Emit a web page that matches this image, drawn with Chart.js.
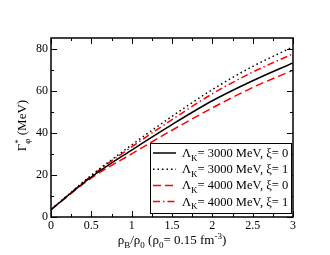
<!DOCTYPE html>
<html>
<head>
<meta charset="utf-8">
<script src="https://cdn.jsdelivr.net/npm/chart.js@4/dist/chart.umd.min.js"></script>
<style>
  html, body { margin: 0; padding: 0; background: #fff; }
  #wrap { width: 330px; height: 255px; }
</style>
</head>
<body>
<div id="wrap"><canvas id="chart" width="330" height="255"></canvas></div>
<script>
// ======= Data =======
const densities = [0, 0.5, 1, 1.5, 2, 2.5, 3];
const gammaL3000xi0 = [3.5, 19.0, 31.8, 43.9, 55.2, 64.7, 73.2];
const gammaL3000xi1 = [3.5, 19.8, 34.2, 47.8, 60.5, 71.5, 80.8];
const gammaL4000xi0 = [3.5, 18.5, 30.0, 41.2, 51.8, 61.5, 69.7];
const gammaL4000xi1 = [3.5, 19.5, 33.3, 46.2, 58.5, 68.8, 77.5];

const xTicks = [0, 0.5, 1, 1.5, 2, 2.5, 3];
const yTicks = [0, 20, 40, 60, 80];
const legendLabels = ['3000 MeV, ξ= 0', '3000 MeV, ξ= 1', '4000 MeV, ξ= 0', '4000 MeV, ξ= 1'];

const FONT = '"Liberation Serif", "Times New Roman", serif';

const toPoints = ys => densities.map((x, i) => ({ x: x, y: ys[i] }));

const styles = [
    { color: '#000000', dash: [] },
    { color: '#000000', dash: [1.5, 3] },
    { color: '#ff0000', dash: [8, 4] },
    { color: '#ff0000', dash: [7, 3, 1.5, 3] }
];
const series = [gammaL3000xi0, gammaL3000xi1, gammaL4000xi0, gammaL4000xi1];

// text with sub/superscript pieces; 'sup0' is drawn without advancing
function richWidth(ctx, parts, size) {
    let w = 0;
    parts.forEach(([t, mode]) => {
        ctx.font = (mode === 'n' ? size : Math.round(size * 0.7)) + 'px ' + FONT;
        if (mode !== 'sup0') w += ctx.measureText(t).width;
    });
    return w;
}
function drawRich(ctx, parts, x, y, size) {
    let cx = x;
    parts.forEach(([t, mode]) => {
        const s = mode === 'n' ? size : Math.round(size * 0.7);
        ctx.font = s + 'px ' + FONT;
        let dy = 0;
        if (mode === 'sub') dy = size * 0.3;
        if (mode === 'sup' || mode === 'sup0') dy = -size * 0.4;
        ctx.fillText(t, cx, y + dy);
        if (mode !== 'sup0') cx += ctx.measureText(t).width;
    });
}

// ======= Frame, inward ticks, titles and legend =======
const framePlugin = {
    id: 'frame',
    afterDatasetsDraw(chart) {
        const ctx = chart.ctx;
        const a = chart.chartArea;
        const xs = chart.scales.x, ys = chart.scales.y;
        ctx.save();
        ctx.strokeStyle = '#000';
        ctx.lineWidth = 1.5;
        ctx.setLineDash([]);
        ctx.strokeRect(a.left, a.top, a.right - a.left, a.bottom - a.top);

        ctx.lineWidth = 1;
        const tick = (x1, y1, x2, y2) => {
            ctx.beginPath(); ctx.moveTo(x1, y1); ctx.lineTo(x2, y2); ctx.stroke();
        };
        for (let v = xs.min; v <= xs.max + 1e-9; v += 0.25) {
            const px = Math.round(xs.getPixelForValue(v)) + 0.5;
            const len = Math.abs(v * 2 - Math.round(v * 2)) < 1e-6 ? 6 : 3;
            tick(px, a.bottom, px, a.bottom - len);
            tick(px, a.top, px, a.top + len);
        }
        for (let v = 0; v <= ys.max + 1e-9; v += 10) {
            const py = Math.round(ys.getPixelForValue(v)) + 0.5;
            const len = v % 20 === 0 ? 6 : 3;
            tick(a.left, py, a.left + len, py);
            tick(a.right, py, a.right - len, py);
        }

        // axis titles
        ctx.fillStyle = '#000';
        ctx.textBaseline = 'alphabetic';
        ctx.textAlign = 'left';
        const xt = [['ρ', 'n'], ['B', 'sub'], ['/ρ', 'n'], ['0', 'sub'], [' (ρ', 'n'], ['0', 'sub'],
                    ['= 0.15 fm', 'n'], ['-3', 'sup'], [')', 'n']];
        const xw = richWidth(ctx, xt, 13);
        drawRich(ctx, xt, (a.left + a.right) / 2 - xw / 2, 244, 13);

        const yt = [['Γ', 'n'], ['*', 'sup0'], ['φ', 'sub'], [' (MeV)', 'n']];
        const yw = richWidth(ctx, yt, 13);
        ctx.save();
        ctx.translate(22, (a.top + a.bottom) / 2 - 2);
        ctx.rotate(-Math.PI / 2);
        drawRich(ctx, yt, -yw / 2, 4, 13);
        ctx.restore();

        // legend box
        const bx = a.left + 99, by = a.top + 105, bw = a.right - 2 - bx, bh = 70;
        ctx.fillStyle = '#fff';
        ctx.fillRect(bx, by, bw, bh);
        ctx.lineWidth = 1;
        ctx.strokeRect(bx + 0.5, by + 0.5, bw, bh);
        legendLabels.forEach((lab, i) => {
            const ry = by + 10 + i * 16.2;
            ctx.strokeStyle = styles[i].color;
            ctx.lineWidth = 1.5;
            ctx.setLineDash(styles[i].dash);
            tick(bx + 3, ry, bx + 26, ry);
            ctx.setLineDash([]);
            ctx.fillStyle = '#000';
            drawRich(ctx, [['Λ', 'n'], ['K', 'sub'], ['= ' + lab, 'n']], bx + 32, ry + 4, 12.5);
        });
        ctx.restore();
    }
};

new Chart(document.getElementById('chart').getContext('2d'), {
    type: 'line',
    data: {
        datasets: series.map((ys, i) => ({
            data: toPoints(ys),
            borderColor: styles[i].color,
            borderDash: styles[i].dash,
            borderWidth: 1.5,
            pointRadius: 0,
            cubicInterpolationMode: 'monotone',
            fill: false
        }))
    },
    options: {
        responsive: false,
        animation: false,
        layout: { padding: { left: 0, right: 37, top: 38, bottom: 0 } },
        plugins: { legend: { display: false }, tooltip: { enabled: false } },
        scales: {
            x: {
                type: 'linear',
                min: 0, max: 3,
                grid: { display: false, drawTicks: false },
                border: { display: false },
                afterBuildTicks: s => { s.ticks = xTicks.map(v => ({ value: v })); },
                afterFit: s => { s.height = 38; },
                ticks: {
                    padding: 2,
                    color: '#000',
                    maxRotation: 0,
                    font: { family: FONT, size: 12 },
                    callback: v => String(v)
                }
            },
            y: {
                min: 0, max: 85,
                grid: { display: false, drawTicks: false },
                border: { display: false },
                afterBuildTicks: s => { s.ticks = yTicks.map(v => ({ value: v })); },
                afterFit: s => { s.width = 51; },
                ticks: {
                    padding: 3,
                    color: '#000',
                    font: { family: FONT, size: 12 }
                }
            }
        }
    },
    plugins: [framePlugin]
});
</script>
</body>
</html>
